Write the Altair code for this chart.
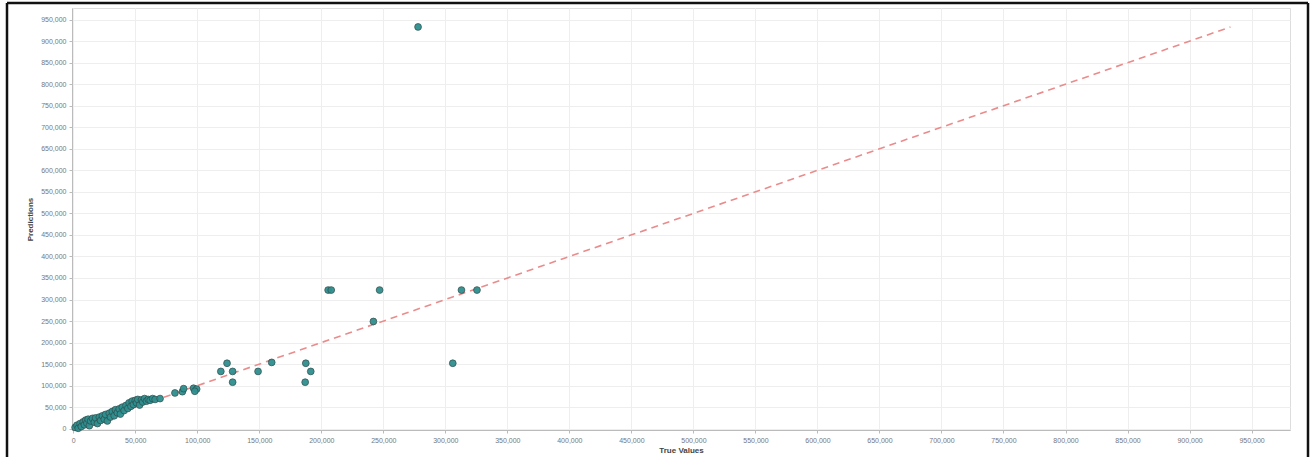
import altair as alt
import pandas as pd

# Observed sale values and the model's predictions for them
true_values = [
    1500, 3000, 4000, 5500, 6500, 8000, 9000, 10000, 11000, 12000,
    13000, 14000, 15500, 17000, 18000, 19500, 21000, 22000, 23500, 25000,
    26000, 27500, 29000, 30000, 31500, 33000, 34000, 35500, 37000, 38000,
    39500, 41000, 42500, 44000, 45000, 46500, 47500, 48500, 50000, 51000,
    52000, 53500, 55000, 56000, 57500, 59000, 60500, 62000, 64000, 66000,
    70000,
    82000, 88000, 89000, 97000, 99500, 98000,
    119000, 124000, 128500, 128500, 149000, 160000,
    187000, 187500, 191500,
    205500, 208000, 242000, 247000,
    278000, 306000, 313000, 325500,
]
predictions = [
    3000, 8000, 1000, 12000, 5000, 16000, 9000, 20000, 13000, 22000,
    7000, 18000, 24000, 15000, 25000, 12000, 27000, 19000, 30000, 22000,
    33000, 18000, 36000, 27000, 40000, 30000, 44000, 37000, 46000, 34000,
    50000, 42000, 54000, 47000, 60000, 52000, 64000, 56000, 66000, 60000,
    68000, 55000, 67000, 62000, 70000, 64000, 68000, 66000, 70000, 68000,
    70000,
    83000, 86000, 93000, 94000, 92000, 87000,
    133000, 152000, 133000, 108000, 133000, 154000,
    108000, 152000, 133000,
    322000, 322000, 249000, 322000,
    933000, 152000, 322000, 322000,
]

# Reference line of perfect prediction, spanning the data range
ref_line = [0, 933000]

tick_values = list(range(0, 950001, 50000))

points = pd.DataFrame({"true": true_values, "pred": predictions})
diag = pd.DataFrame({"true": ref_line, "pred": ref_line})

x_scale = alt.Scale(domain=[-1000, 981000], nice=False, zero=False)
y_scale = alt.Scale(domain=[-3000, 977000], nice=False, zero=False)

axis_style = dict(
    values=tick_values, tickCount=len(tick_values) + 5, format=",.0f",
    labelOverlap=False,
    labelFontSize=7, labelColor="#777777", titleFontSize=8, titleColor="#444444",
    titleFontWeight="bold", grid=True, gridColor="#eeeeee", domainColor="#bbbbbb",
    tickColor="#bbbbbb", tickSize=3, labelPadding=3,
)
x_axis = alt.Axis(title="True Values", titlePadding=3, **axis_style)
y_axis = alt.Axis(title="Predictions", titlePadding=6, **axis_style)

scatter = alt.Chart(points).mark_circle(
    size=46, color="#2f8f8f", opacity=0.95, stroke="#2d4f4f", strokeWidth=0.8
).encode(
    x=alt.X("true:Q", scale=x_scale, axis=x_axis),
    y=alt.Y("pred:Q", scale=y_scale, axis=y_axis),
)

line = alt.Chart(diag).mark_line(
    color="#ea8c8c", strokeDash=[7, 5], strokeWidth=1.6
).encode(
    x=alt.X("true:Q", scale=x_scale, axis=x_axis),
    y=alt.Y("pred:Q", scale=y_scale, axis=y_axis),
)

# Black frame around the whole figure
frame_color = "#111111"
frame_left = alt.Chart().mark_rule(color=frame_color, strokeWidth=2.5).encode(
    x=alt.value(-65), y=alt.value(-5), y2=alt.value(460)
)
frame_top = alt.Chart().mark_rule(color=frame_color, strokeWidth=2.5).encode(
    x=alt.value(-65), x2=alt.value(1236), y=alt.value(-5)
)
frame_right = alt.Chart().mark_rule(color=frame_color, strokeWidth=2.5).encode(
    x=alt.value(1236), y=alt.value(-5), y2=alt.value(460)
)

chart = alt.layer(line, scatter, frame_left, frame_top, frame_right).properties(
    width=1218,
    height=422,
    autosize=alt.AutoSizeParams(type="none"),
    padding={"left": 72, "top": 8, "right": 24, "bottom": 27},
).configure_view(
    stroke="#d8d8d8", strokeWidth=1
).configure(
    background="white", font="Liberation Sans"
)

chart.save("out.html", embed_options={"renderer": "svg", "actions": False})
